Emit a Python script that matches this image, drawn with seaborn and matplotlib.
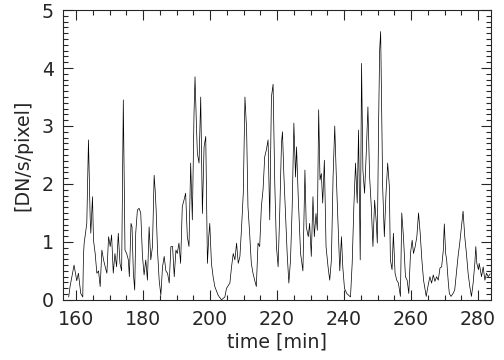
import numpy as np
import pandas as pd
import matplotlib
matplotlib.use("Agg")
import matplotlib.pyplot as plt
from matplotlib.ticker import MultipleLocator
import seaborn as sns

# values
time_min = [
    157.8, 158.2, 159.4, 160.2, 160.7, 161.4, 162.0, 162.2, 162.4, 163.2, 163.7, 164.2, 164.4, 164.9,
    165.2, 165.7, 166.2, 166.7, 167.2, 167.7, 168.2, 168.7, 169.2, 169.7, 170.2, 170.6,
    171.1, 171.6, 172.1, 172.6, 173.1, 173.6, 174.1, 174.6, 175.1, 175.6, 175.9, 176.4,
    176.7, 177.1, 177.5, 177.8, 178.3, 178.8, 179.3, 179.8, 180.3, 180.8, 181.3, 181.8,
    182.3, 182.8, 183.3, 183.6, 183.9, 184.3, 184.8, 185.3, 185.8, 186.3, 186.8, 187.3,
    187.8, 188.3, 188.8, 189.3, 189.8, 190.2, 190.7, 191.2, 191.7, 192.2, 192.7, 193.2,
    193.7, 194.2, 194.7, 195.2, 195.5, 195.9, 196.2, 196.7, 197.2, 197.7, 198.2, 198.7,
    199.2, 199.6, 199.9, 200.4, 200.9, 201.4, 202.4, 203.4, 204.4, 204.9, 205.9, 206.4,
    206.9, 207.4, 207.9, 208.4, 208.9, 209.4, 209.9, 210.4, 210.9, 211.3, 211.8, 212.3,
    212.8, 213.3, 213.8, 214.3, 214.8, 215.3, 215.8, 216.3, 216.8, 217.3, 217.8, 218.3,
    218.8, 219.3, 219.8, 220.3, 220.8, 221.3, 221.6, 222.0, 222.5, 223.0, 223.5, 224.0,
    224.5, 225.0, 225.5, 225.8, 226.3, 227.0, 227.7, 228.3, 228.7, 229.3, 229.7, 230.2,
    230.7, 231.1, 231.6, 232.0, 232.4, 232.8, 233.2, 233.6, 234.1, 234.6, 235.2, 235.7,
    236.2, 236.7, 237.2, 237.7, 238.2, 238.7, 239.2, 239.6, 240.1, 240.8, 241.9, 242.4,
    242.9, 243.4, 243.9, 244.3, 244.6, 244.8, 245.2, 245.6, 246.1, 246.6, 247.1, 247.6,
    248.1, 248.6, 249.1, 249.6, 249.9, 250.3, 250.6, 250.9, 251.3, 251.5, 252.0, 252.5,
    253.0, 253.5, 253.8, 254.3, 254.7, 255.2, 255.7, 256.2, 256.8, 257.2, 257.7, 258.3,
    258.8, 259.3, 259.8, 260.3, 260.7, 261.2, 261.7, 262.2, 262.7, 263.2, 263.7, 264.5,
    265.0, 265.6, 266.1, 266.6, 267.1, 267.6, 268.1, 268.6, 269.1, 269.6, 269.9, 270.3,
    270.6, 271.1, 271.4, 271.9, 272.5, 273.0, 273.5, 274.0, 274.5, 275.0, 275.5, 276.0,
    276.5, 277.0, 277.5, 278.0, 278.5, 279.0, 279.3, 279.6, 280.1, 280.3, 280.5, 281.0,
    281.5, 282.0, 282.5, 283.0, 283.6,
]
rate = [
    0.05, 0.23, 0.60, 0.33, 0.46, 0.11, 0.05, 0.75, 0.97, 1.32, 2.76, 1.43, 1.15, 1.78,
    1.03, 0.80, 0.46, 0.50, 0.23, 0.86, 0.69, 0.57, 0.46, 1.09, 0.92, 1.12,
    0.46, 0.80, 0.57, 1.15, 0.63, 0.50, 3.45, 0.86, 0.80, 0.69, 0.40, 1.32,
    1.26, 0.46, 0.17, 1.15, 1.55, 1.58, 1.50, 0.77, 0.43, 0.69, 0.34, 1.26,
    0.69, 0.92, 2.15, 1.90, 1.55, 0.86, 0.34, 0.08, 0.57, 0.75, 0.50, 0.46,
    0.29, 0.92, 0.92, 0.40, 0.86, 0.80, 0.98, 0.63, 1.61, 1.72, 1.84, 1.09,
    0.92, 2.36, 1.38, 3.22, 3.85, 3.05, 2.53, 2.36, 3.50, 1.49, 2.64, 2.82,
    0.63, 1.09, 1.32, 0.63, 0.40, 0.23, 0.08, 0.00, 0.05, 0.20, 0.29, 0.57,
    0.80, 0.69, 0.98, 0.63, 0.75, 1.26, 1.84, 3.50, 2.93, 1.61, 1.15, 0.63,
    0.46, 0.34, 0.23, 0.98, 0.92, 1.61, 1.90, 2.47, 2.59, 2.76, 1.38, 3.50,
    3.72, 2.01, 0.92, 0.57, 1.55, 2.70, 2.90, 2.18, 1.49, 0.80, 0.29, 0.69,
    1.61, 3.05, 2.12, 2.64, 1.78, 0.80, 0.50, 2.24, 1.26, 1.09, 1.32, 0.75,
    1.78, 1.09, 1.49, 1.20, 3.28, 2.07, 2.18, 1.67, 2.41, 0.92, 0.57, 0.34,
    0.69, 2.12, 3.00, 2.07, 1.26, 0.50, 1.09, 0.57, 0.20, 0.11, 0.05, 0.63,
    1.61, 2.36, 1.67, 2.93, 1.61, 0.69, 4.08, 2.24, 1.84, 2.53, 3.33, 2.13,
    1.61, 0.92, 1.72, 1.33, 0.98, 3.10, 4.31, 4.63, 2.82, 1.95, 1.09, 1.84,
    2.36, 1.95, 0.69, 0.52, 1.15, 0.46, 0.34, 0.29, 0.06, 1.50, 1.09, 0.40,
    0.34, 0.11, 0.80, 1.03, 0.80, 0.92, 1.09, 1.50, 1.15, 0.69, 0.34, 0.06,
    0.23, 0.40, 0.29, 0.43, 0.32, 0.40, 0.34, 0.55, 0.57, 0.86, 1.31, 0.80,
    0.69, 0.29, 0.11, 0.06, 0.11, 0.17, 0.46, 0.75, 0.98, 1.26, 1.53, 1.09,
    0.80, 0.46, 0.23, 0.06, 0.29, 0.63, 0.92, 0.63, 0.52, 0.63, 0.57, 0.40,
    0.57, 0.34, 0.46, 0.40, 0.45,
]

df = pd.DataFrame({"time": time_min, "rate": rate})

sns.set_style("ticks")
plt.rcParams['font.family'] = ['DejaVu Sans']

fig, ax = plt.subplots(figsize=(7, 5), dpi=72)
fig.subplots_adjust(left=0.125, right=0.974, bottom=0.167, top=0.972)

sns.lineplot(data=df, x="time", y="rate", color="black", linewidth=0.7, ax=ax)

ax.set_xlim(156.1, 283.8)
ax.set_ylim(0, 5)
ax.xaxis.set_major_locator(MultipleLocator(20))
ax.xaxis.set_minor_locator(MultipleLocator(5))
ax.yaxis.set_major_locator(MultipleLocator(1))
ax.yaxis.set_minor_locator(MultipleLocator(0.1))
ax.tick_params(which="both", direction="in", top=True, right=True, width=1.1, labelsize=19)
ax.tick_params(which="major", length=10)
ax.tick_params(which="minor", length=5)
ax.tick_params(axis="x", which="major", pad=10)
ax.tick_params(axis="y", which="major", pad=9)
for s in ax.spines.values():
    s.set_linewidth(1.1)

ax.set_xlabel("time [min]", fontsize=19, labelpad=4)
ax.set_ylabel("[DN/s/pixel]", fontsize=19, labelpad=10)

plt.savefig("out.png", dpi=72)
